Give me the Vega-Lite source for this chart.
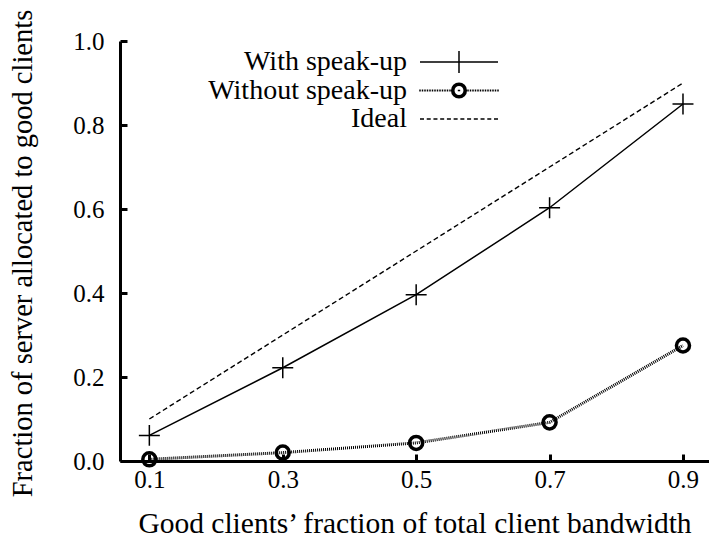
{
  "$schema": "https://vega.github.io/schema/vega-lite/v6.json",
  "width": 589,
  "height": 420,
  "autosize": {"type": "none"},
  "padding": {"left": 120, "top": 41, "right": 0, "bottom": 87},
  "background": "white",
  "config": {
    "font": "Liberation Serif, DejaVu Serif, serif",
    "view": {"stroke": null},
    "axis": {
      "grid": false,
      "domainColor": "black",
      "domainWidth": 3,
      "tickColor": "black",
      "tickWidth": 3,
      "tickSize": -7,
      "labelColor": "black",
      "labelFont": "Liberation Serif, DejaVu Serif, serif",
      "labelFontSize": 25,
      "titleColor": "black",
      "titleFont": "Liberation Serif, DejaVu Serif, serif",
      "titleFontSize": 28.5,
      "titleFontWeight": "normal"
    }
  },
  "datasets": {
    "series": [
      {"bandwidth": 0.1, "allocated": 0.061, "series": "With speak-up"},
      {"bandwidth": 0.3, "allocated": 0.222, "series": "With speak-up"},
      {"bandwidth": 0.5, "allocated": 0.396, "series": "With speak-up"},
      {"bandwidth": 0.7, "allocated": 0.603, "series": "With speak-up"},
      {"bandwidth": 0.9, "allocated": 0.85, "series": "With speak-up"},
      {"bandwidth": 0.1, "allocated": 0.004, "series": "Without speak-up"},
      {"bandwidth": 0.3, "allocated": 0.02, "series": "Without speak-up"},
      {"bandwidth": 0.5, "allocated": 0.043, "series": "Without speak-up"},
      {"bandwidth": 0.7, "allocated": 0.092, "series": "Without speak-up"},
      {"bandwidth": 0.9, "allocated": 0.275, "series": "Without speak-up"},
      {"bandwidth": 0.1, "allocated": 0.1, "series": "Ideal"},
      {"bandwidth": 0.3, "allocated": 0.3, "series": "Ideal"},
      {"bandwidth": 0.5, "allocated": 0.5, "series": "Ideal"},
      {"bandwidth": 0.7, "allocated": 0.7, "series": "Ideal"},
      {"bandwidth": 0.9, "allocated": 0.9, "series": "Ideal"}
    ]
  },
  "data": {"name": "series"},
  "encoding": {
    "x": {
      "field": "bandwidth",
      "type": "quantitative",
      "scale": {"domain": [0.056, 0.939], "nice": false, "zero": false},
      "axis": {
        "values": [0.1, 0.3, 0.5, 0.7, 0.9],
        "format": ".1f",
        "labelPadding": 13,
        "title": "Good clients’ fraction of total client bandwidth",
        "titleFontSize": 29.5,
        "titleBaseline": "alphabetic",
        "titleY": 71
      }
    },
    "y": {
      "field": "allocated",
      "type": "quantitative",
      "scale": {"domain": [0, 1], "nice": false},
      "axis": {
        "values": [0, 0.2, 0.4, 0.6, 0.8, 1],
        "format": ".1f",
        "labelPadding": 23,
        "title": "Fraction of server allocated to good clients",
        "titleAngle": -90,
        "titleAlign": "center",
        "titleBaseline": "middle",
        "titleX": -98,
        "titleY": 212
      }
    }
  },
  "layer": [
    {
      "transform": [{"filter": "datum.series === 'Ideal'"}],
      "mark": {"type": "line", "stroke": "black", "strokeWidth": 1.4, "strokeDash": [5, 3]}
    },
    {
      "transform": [{"filter": "datum.series === 'With speak-up'"}],
      "mark": {"type": "line", "stroke": "black", "strokeWidth": 1.5}
    },
    {
      "transform": [{"filter": "datum.series === 'With speak-up'"}],
      "mark": {"type": "point", "shape": "M-1,0H1M0,-1V1", "size": 440, "filled": false, "stroke": "black", "strokeWidth": 1.5, "opacity": 1}
    },
    {
      "transform": [{"filter": "datum.series === 'Without speak-up'"}],
      "mark": {"type": "line", "stroke": "black", "strokeWidth": 3, "strokeDash": [1, 1]}
    },
    {
      "transform": [{"filter": "datum.series === 'Without speak-up'"}],
      "mark": {"type": "point", "shape": "circle", "size": 170, "filled": false, "stroke": "black", "strokeWidth": 3.5, "opacity": 1}
    },
    {
      "mark": {"type": "point", "filled": false, "color": "black", "opacity": 0},
      "encoding": {
        "shape": {
          "field": "series",
          "type": "nominal",
          "scale": {
            "domain": ["With speak-up", "Without speak-up", "Ideal"],
            "range": [
              "M-3.9,0H3.9M0,-1.1V1.1",
              "M-3.9,-0.1v0.2m0.25,-0.2v0.2m0.25,-0.2v0.2m0.25,-0.2v0.2m0.25,-0.2v0.2m0.25,-0.2v0.2m0.25,-0.2v0.2m0.25,-0.2v0.2m0.25,-0.2v0.2m0.25,-0.2v0.2m0.25,-0.2v0.2m0.25,-0.2v0.2m0.25,-0.2v0.2M0.9,-0.1v0.2m0.25,-0.2v0.2m0.25,-0.2v0.2m0.25,-0.2v0.2m0.25,-0.2v0.2m0.25,-0.2v0.2m0.25,-0.2v0.2m0.25,-0.2v0.2m0.25,-0.2v0.2m0.25,-0.2v0.2m0.25,-0.2v0.2m0.25,-0.2v0.2m0.25,-0.2v0.2M0.52,0A0.52,0.52,0,1,1,-0.52,0A0.52,0.52,0,1,1,0.52,0M0.625,0A0.625,0.625,0,1,1,-0.625,0A0.625,0.625,0,1,1,0.625,0M0.73,0A0.73,0.73,0,1,1,-0.73,0A0.73,0.73,0,1,1,0.73,0M-0.12,0h0.24",
              "M-3.9,0h0.4m0.2727,0h0.4m0.2727,0h0.4m0.2727,0h0.4m0.2727,0h0.4m0.2727,0h0.4m0.2727,0h0.4m0.2727,0h0.4m0.2727,0h0.4m0.2727,0h0.4m0.2727,0h0.4m0.2727,0h0.4"
            ]
          },
          "legend": {
            "title": null,
            "orient": "none",
            "legendX": 325,
            "legendY": 7,
            "padding": 0,
            "offset": 0,
            "symbolSize": 400,
            "symbolStrokeWidth": 1.5,
            "symbolStrokeColor": "black",
            "symbolFillColor": "transparent",
            "symbolOpacity": 1,
            "labelAlign": "right",
            "labelBaseline": "middle",
            "labelOffset": -66,
            "labelFont": "Liberation Serif, DejaVu Serif, serif",
            "labelFontSize": 28,
            "labelColor": "black",
            "labelLimit": 0,
            "rowPadding": 0.5,
            "encode": {
              "symbols": {
                "update": {
                  "fill": {"value": "transparent"},
                  "stroke": {"value": "black"},
                  "strokeWidth": {"value": 1.5},
                  "opacity": {"value": 1}
                }
              }
            }
          }
        }
      }
    }
  ]
}
